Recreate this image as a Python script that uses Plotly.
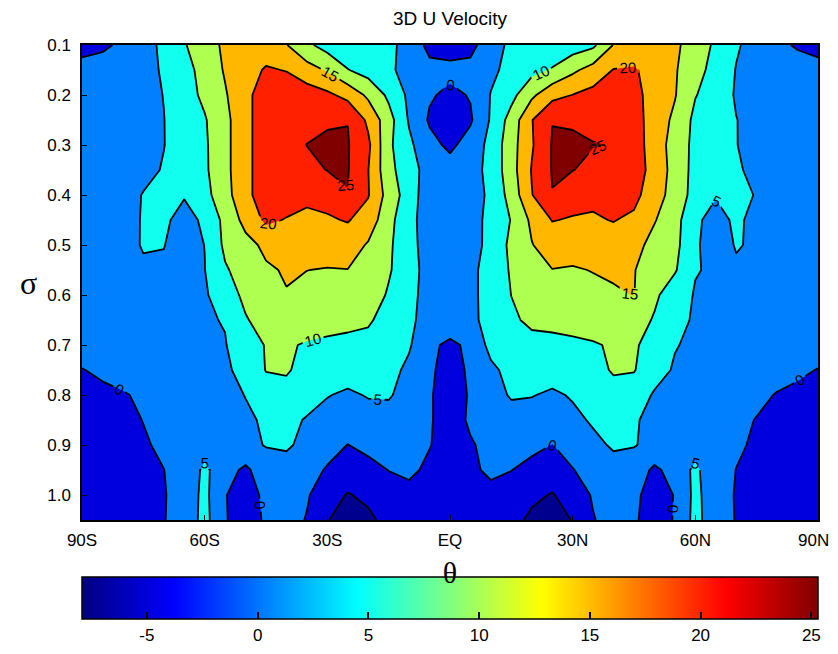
import plotly.graph_objects as go

# ---------------- data ----------------
lat = [-90, -85, -80, -75, -70, -65, -60, -55, -50, -45, -40, -35, -30, -25, -20, -15, -10, -5, 0,
       5, 10, 15, 20, 25, 30, 35, 40, 45, 50, 55, 60, 65, 70, 75, 80, 85, 90]
sigma = [0.10, 0.15, 0.20, 0.25, 0.30, 0.35, 0.40, 0.45, 0.50, 0.55,
         0.60, 0.65, 0.70, 0.75, 0.80, 0.85, 0.90, 0.95, 1.00, 1.05]

u_s010 = [-1.5, -0.8, 0.8, 3.2, 6, 9.6, 13, 15.8, 17, 17.5, 15.2, 11, 8, 6, 7.5, 6, 3.5, -1.5, -2,
          -1.5, 3, 6, 7.5, 6, 7.5, 9, 15.2, 17.5, 17.5, 16, 12.5, 9.2, 5.5, 3.3, 1, -0.5, -1.5]
u_s015 = [1.5, 2, 2.5, 3.5, 5.5, 8.5, 11.5, 15.5, 18, 20.5, 19.8, 17, 14.5, 10.2, 8, 6, 3, 1.5, 1.2,
          1.5, 4, 6.5, 8.5, 10.5, 14, 17, 20.2, 20.4, 18.5, 15.5, 11.5, 8.5, 4.8, 3.5, 2.5, 2, 1.5]
u_s020 = [2, 2.3, 2.6, 3.5, 5.1, 8, 11, 14.5, 19, 22, 23, 22.5, 21, 18.5, 14, 9, 4, 0.5, -1,
          0.3, 5.2, 8.5, 14, 18.5, 20.1, 21.5, 22.5, 21.5, 18, 15.3, 10.2, 8, 4.5, 3.5, 2.7, 2.3, 2]
u_s025 = [2.2, 2.5, 2.8, 3.6, 4.9, 7.5, 9.6, 13.5, 19, 22, 23, 24, 24.8, 24.9, 19, 12, 4.5, -0.6, -2.5,
          -0.6, 5.5, 12, 19.8, 24.9, 24.8, 24, 23, 22, 17.8, 14, 8.8, 7, 5.1, 3.6, 2.8, 2.5, 2.2]
u_s030 = [2.3, 2.6, 2.9, 3.7, 4.9, 7, 9.3, 13.5, 19, 22, 23.5, 25.05, 25.3, 25.3, 21, 11, 6, 1.5, -1,
          2, 6.5, 13, 19.5, 25.3, 25.3, 25.15, 24.9, 22, 18, 12.7, 8.8, 6.5, 5.1, 3.7, 2.9, 2.6, 2.3]
u_s035 = [2.4, 2.7, 3, 3.8, 5.3, 7, 9.2, 13.5, 19, 22, 23, 24, 25.1, 25.25, 20.1, 11.5, 7, 3, 2,
          3, 6.5, 13, 20.3, 25.25, 25.1, 24, 23.5, 22, 18.5, 13, 8.5, 6.8, 5.5, 4, 3.2, 2.8, 2.4]
u_s040 = [2.5, 2.8, 3.3, 5.2, 5.8, 5.2, 8.5, 13, 19, 22, 22.5, 21, 21.5, 24.9, 20.3, 13, 7.5, 2, 2,
          3.2, 5.8, 12, 19.8, 24.9, 22, 21, 22.5, 21.5, 17, 13.2, 8, 5.2, 6, 4.8, 3.4, 2.9, 2.5]
u_s045 = [2.6, 2.9, 3.5, 5.3, 5.5, 4, 5.5, 11.5, 16.5, 21, 19.7, 19, 19.5, 20.3, 18, 11.5, 6.5, 2.5, 2,
          2.5, 6.8, 10.2, 16, 20.2, 19.6, 19.5, 20.2, 19, 15.3, 12, 5.5, 4, 5.5, 4.2, 3.5, 3, 2.6]
u_s050 = [2.7, 3, 3.6, 5.3, 5.1, 3.5, 5.05, 11, 13.5, 16, 17.5, 18, 17.8, 17.5, 14.5, 10.8, 6.8, 2.5, 2,
          2.6, 6.8, 11, 14.8, 17.3, 17.6, 18, 17.8, 16.5, 13.5, 11.5, 5.4, 3.6, 5.2, 4.6, 3.6, 3, 2.7]
u_s055 = [2.8, 3.1, 3.6, 4.4, 4.5, 4, 4.9, 9.5, 12, 14.4, 15.4, 15.05, 14.7, 14.9, 13.5, 10.5, 7, 3, 2,
          3.8, 7, 10.5, 13.5, 14.9, 14.5, 15.2, 15.6, 15.2, 12.5, 10.5, 5.2, 4.5, 4.6, 4.4, 3.6, 3.1, 2.8]
u_s060 = [2.8, 3.1, 3.5, 4, 4.3, 4.5, 4.6, 6.8, 11.5, 14.9, 14.8, 13.5, 13, 12.8, 12.5, 9.5, 6.5, 3, 2,
          3.8, 7, 10.05, 12.5, 12.8, 13, 13.5, 14.5, 15.1, 11, 7, 4.7, 4.4, 4.2, 3.9, 3.5, 3.1, 2.8]
u_s065 = [2.7, 3, 3.4, 3.8, 4.1, 4.3, 4.6, 5.2, 9.5, 12.5, 12.8, 12.2, 11.5, 11, 10.5, 8.5, 6, 3, 3,
          3.8, 6.8, 9.2, 11, 11, 11.5, 12.2, 12.8, 12.5, 9.5, 6, 4.6, 4.3, 4.1, 3.8, 3.4, 3, 2.7]
u_s070 = [2.6, 2.9, 3.2, 3.5, 3.8, 4, 4.3, 4.8, 7.5, 10.3, 10.5, 9.6, 9.2, 9, 8.8, 7.5, 5.5, 1, -1,
          1, 6.5, 7.5, 8.5, 9, 9.2, 9.6, 10.5, 10.8, 7.5, 5.2, 4.3, 4, 3.8, 3.5, 3.2, 2.9, 2.6]
u_s075 = [-0.2, 1, 2, 2.8, 3.2, 3.5, 3.8, 4.5, 6, 10.2, 10.6, 8, 7.5, 7, 7, 6.5, 4, 0.8, -2,
          0.8, 4, 6.5, 7, 7, 7.3, 8, 10.6, 10.3, 6.5, 4.6, 3.8, 3.5, 3.2, 2.8, 2, 1, -0.2]
u_s080 = [-1.8, -1.2, -0.4, 0.8, 2, 2.8, 3.3, 3.9, 5.1, 7.5, 8, 6.5, 5.2, 4.3, 5.3, 5.5, 3, 0.5, -2.5,
          0.5, 3, 5.5, 5.2, 4.3, 5.4, 6.5, 7.8, 7, 4.6, 4, 3.4, 2.9, 2.2, 1.2, -0.3, -1.2, -1.8]
u_s085 = [-2.3, -1.8, -1.2, 0.1, 1.5, 2.5, 3, 3.6, 4.4, 5.5, 6, 4.7, 3.5, 3, 3.2, 3, 2, 0.5, -2.5,
          0.8, 2, 3, 3.1, 3, 4, 5.5, 6.2, 5.3, 4.2, 3.6, 3, 2.2, 1.2, -0.2, -1.2, -1.8, -2.3]
u_s090 = [-2.5, -2, -1.2, -0.5, 0.8, 2, 3, 3.5, 4, 5.2, 5.5, 4, 2, -0.1, 1.5, 2, 1.5, 0.2, -2,
          -0.5, 1.5, 2, 1.5, -0.1, 2, 4, 5.5, 5.2, 4, 3.5, 3, 2, 0.5, -0.5, -1.2, -2, -2.5]
u_s095 = [-3, -2.5, -1.8, -1, -0.05, 1.5, 6, 2, -1, 3, 3.5, 2, -0.5, -2.5, -1.8, 0.1, 1, -1, -3,
          -1, 1, 0.1, -1.8, -2.5, -0.2, 2, 3.5, 3, -1, 2, 6, 1.5, -0.05, -1, -1.8, -2.5, -3]
u_s100 = [-3.5, -3, -2.3, -1.5, -0.3, 2, 6.3, 0.3, -3, 1.5, 2.5, 0.5, -3, -5.3, -4, -2.5, -1.5, -2, -3.5,
          -2, -1.5, -2.5, -4, -5.3, -3, 0.5, 2.5, 1.5, -3, 0.3, 6.3, 2, -0.3, -1.5, -2.3, -3, -3.5]
u_s105 = [-4, -3.5, -2.8, -1.8, -0.2, 2, 6.5, 0.5, -3.5, 1, 2, -0.3, -4.7, -7.93, -6, -3.5, -2, -2.5, -3.5,
          -2.5, -2, -3.5, -6, -7.93, -4.7, -0.3, 2, 1, -3.5, 0.5, 6.5, 2, -0.2, -1.8, -2.8, -3.5, -4]

u_rows = [u_s010, u_s015, u_s020, u_s025, u_s030, u_s035, u_s040, u_s045, u_s050, u_s055,
          u_s060, u_s065, u_s070, u_s075, u_s080, u_s085, u_s090, u_s095, u_s100, u_s105]

x_tickvals = [-90, -60, -30, 0, 30, 60]
x_ticktext = ["90S", "60S", "30S", "EQ", "30N", "60N"]
x_last_tick = 90
x_last_text = "90N"
y_tickvals = [0.1, 0.2, 0.3, 0.4, 0.5, 0.6, 0.7, 0.8, 0.9, 1.0]
y_ticktext = ["0.1", "0.2", "0.3", "0.4", "0.5", "0.6", "0.7", "0.8", "0.9", "1.0"]
cb_tickvals = [-5, 0, 5, 10, 15, 20, 25]
cb_ticktext = ["-5", "0", "5", "10", "15", "20", "25"]

# ---------------- styles ----------------
jet = [[0.0, "rgb(0,0,128)"], [0.125, "rgb(0,0,255)"], [0.375, "rgb(0,255,255)"],
       [0.625, "rgb(255,255,0)"], [0.875, "rgb(255,0,0)"], [1.0, "rgb(128,0,0)"]]
band_colors = ["rgb(0,0,143)", "rgb(0,0,223)", "rgb(0,128,255)", "rgb(16,255,239)",
               "rgb(175,255,80)", "rgb(255,183,0)", "rgb(255,32,0)", "rgb(128,0,0)"]
band_scale = [[i / (len(band_colors) - 1), c] for i, c in enumerate(band_colors)]

font_sans = "Liberation Sans, Arial, sans-serif"
font_serif = "Liberation Serif, Times New Roman, serif"

zmin = min(min(r) for r in u_rows)
zmax = max(max(r) for r in u_rows)

fig = go.Figure()

# smooth jet colour bar (its heatmap is hidden under the filled contours)
fig.add_trace(go.Heatmap(
    x=lat, y=sigma, z=u_rows, zmin=zmin, zmax=zmax, colorscale=jet,
    hoverinfo="skip", showscale=True,
    colorbar=dict(orientation="h", x=0.5, xanchor="center", y=-0.121, yanchor="top",
                  len=1.0, lenmode="fraction", thickness=42, thicknessmode="pixels",
                  xpad=0, ypad=0, outlinecolor="black", outlinewidth=1.5,
                  tickvals=cb_tickvals, ticktext=cb_ticktext, ticks="inside", ticklen=7,
                  tickcolor="black", tickwidth=1.5,
                  tickfont=dict(family=font_sans, size=17, color="black"))
))

fig.add_trace(go.Contour(
    x=lat, y=sigma, z=u_rows,
    autocontour=False,
    contours=dict(start=-5, end=25, size=5, coloring="fill", showlabels=True,
                  labelfont=dict(family=font_sans, size=15, color="black")),
    line=dict(color="black", width=1.8, smoothing=0),
    colorscale=band_scale, showscale=False, hoverinfo="skip"
))

# the page body adds an 8 px margin, so the figure is made smaller to fit the window
fig.update_layout(
    width=830, height=638,
    margin=dict(l=74, r=20, t=37, b=126, autoexpand=False),
    paper_bgcolor="white", plot_bgcolor="white",
    title=dict(text="3D U Velocity", x=0.5, xref="paper", xanchor="center",
               y=0.984, yref="container", yanchor="middle",
               font=dict(family=font_sans, size=19, color="black")),
    xaxis=dict(range=[-90, 90], tickvals=x_tickvals, ticktext=x_ticktext,
               ticks="inside", ticklen=5, tickcolor="black", showline=True, linecolor="black",
               linewidth=1.5, mirror=True, showgrid=False, zeroline=False, automargin=False,
               ticklabelstandoff=4,
               tickfont=dict(family=font_sans, size=17, color="black"),
               title=dict(text="θ", standoff=13, font=dict(family=font_serif, size=30, color="black"))),
    yaxis=dict(range=[1.05, 0.1], tickvals=y_tickvals, ticktext=y_ticktext,
               ticks="inside", ticklen=5, tickcolor="black", showline=True, linecolor="black",
               linewidth=1.5, mirror=True, showgrid=False, zeroline=False, automargin=False,
               ticklabelstandoff=6,
               tickfont=dict(family=font_sans, size=17, color="black")),
    annotations=[
        dict(text="σ", xref="paper", yref="paper", x=-0.073, y=0.5,
             xanchor="center", yanchor="middle", showarrow=False,
             font=dict(family=font_serif, size=32, color="black")),
        # last x tick label, nudged inward so it is not clipped at the window edge
        dict(text=x_last_text, x=x_last_tick, xref="x", y=0, yref="paper",
             xanchor="center", yanchor="top", xshift=-5, yshift=-9, showarrow=False,
             font=dict(family=font_sans, size=17, color="black")),
    ],
)

fig.write_html("out.html")
